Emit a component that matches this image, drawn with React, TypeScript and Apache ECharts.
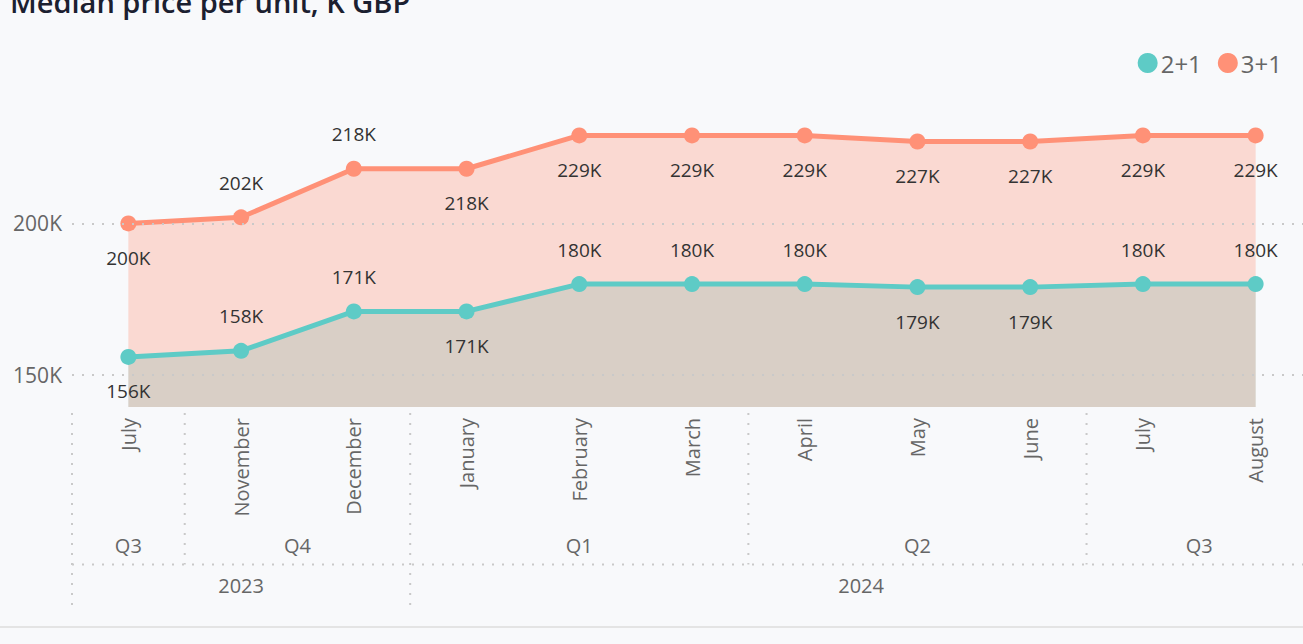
import React, { useEffect, useRef } from "react";
import * as echarts from "echarts";

const months = ["July", "November", "December", "January", "February", "March", "April", "May", "June", "July", "August"];
const quarters = ["Q3", "Q4", "Q4", "Q1", "Q1", "Q1", "Q2", "Q2", "Q2", "Q3", "Q3"];
const years = ["2023", "2023", "2023", "2024", "2024", "2024", "2024", "2024", "2024", "2024", "2024"];
const values21 = [156, 158, 171, 171, 180, 180, 180, 179, 179, 180, 180];
const values31 = [200, 202, 218, 218, 229, 229, 229, 227, 227, 229, 229];
const labelAbove21 = [false, true, true, false, true, true, true, false, false, true, true];
const labelAbove31 = [false, true, true, false, false, false, false, false, false, false, false];
const yLabelTicks = [150, 200];
const titleText = "Median price per unit, K GBP";

const FONT = '"Segoe UI", "Open Sans", "Noto Sans", sans-serif';
const TEAL = "#5ECBC6";
const SALMON = "#FF9177";
const DOT = "#C9C9C9";
const VIEW_W = 1303;
const CHART_W = 1312;

function groups(keys: string[]) {
  const out: { key: string; start: number; end: number }[] = [];
  keys.forEach((k, i) => {
    const last = out[out.length - 1];
    if (last && last.key === k) last.end = i;
    else out.push({ key: k, start: i, end: i });
  });
  return out;
}

export default function App() {
  const ref = useRef<HTMLDivElement>(null);
  useEffect(() => {
    if (!ref.current) return;
    const chart = echarts.init(ref.current, undefined, { renderer: "svg" });
    const lbl = (above: boolean[]) => (v: number, i: number) => ({
      value: v,
      label: { position: above[i] ? "top" : "bottom" },
    });
    const dataLabel = {
      show: true,
      formatter: (p: any) => `${p.value}K`,
      color: "#333",
      fontSize: 19,
      fontFamily: FONT,
      distance: 17,
    };
    const option: any = {
      animation: false,
      backgroundColor: "#F8F9FB",
      legend: {
        data: ["2+1", "3+1"],
        icon: "circle",
        itemWidth: 20,
        itemHeight: 20,
        itemGap: 16,
        right: CHART_W - 1287,
        top: 46,
        textStyle: { fontSize: 24, color: "#666", fontFamily: FONT, padding: [0, 0, 0, -2] },
      },
      grid: { left: 72, right: 0, top: 102, bottom: 237, containLabel: false },
      xAxis: {
        type: "category",
        data: months,
        boundaryGap: true,
        axisLine: { show: false },
        axisTick: { show: false },
        splitLine: { show: false },
        axisLabel: {
          interval: 0,
          rotate: 90,
          margin: 11,
          fontSize: 20,
          color: "#666",
          fontFamily: FONT,
        },
      },
      yAxis: {
        type: "value",
        min: 139.5,
        max: 240,
        interval: 0.5,
        axisLine: { show: false },
        axisTick: { show: false },
        splitLine: { show: false },
        axisLabel: {
          margin: 10,
          fontSize: 21,
          color: "#666",
          fontFamily: FONT,
          formatter: (v: number) => (yLabelTicks.includes(v) ? `${v}K` : ""),
        },
      },
      series: [
        {
          name: "2+1",
          type: "line",
          data: values21,
          symbol: "none",
          color: TEAL,
          lineStyle: { width: 0 },
          areaStyle: { color: "rgba(94,203,198,0.44)", origin: "start" },
          silent: true,
          markLine: {
            silent: true,
            symbol: "none",
            label: { show: false },
            lineStyle: { color: DOT, width: 2, type: [2, 8] },
            data: yLabelTicks.map((t) => ({ yAxis: t })),
          },
        },
        {
          name: "3+1",
          type: "line",
          data: values31,
          symbol: "none",
          color: SALMON,
          lineStyle: { width: 0 },
          areaStyle: { color: "rgba(255,145,119,0.44)", origin: "start" },
          silent: true,
        },
        {
          name: "2+1",
          type: "line",
          data: values21.map(lbl(labelAbove21)),
          color: TEAL,
          symbol: "circle",
          symbolSize: 16,
          lineStyle: { width: 5, color: TEAL },
          itemStyle: { color: TEAL },
          label: dataLabel,
        },
        {
          name: "3+1",
          type: "line",
          data: values31.map(lbl(labelAbove31)),
          color: SALMON,
          symbol: "circle",
          symbolSize: 16,
          lineStyle: { width: 5, color: SALMON },
          itemStyle: { color: SALMON },
          label: dataLabel,
        },
      ],
    };
    chart.setOption(option);

    const cx = (i: number) => chart.convertToPixel({ xAxisIndex: 0 }, i) as number;
    const band = cx(1) - cx(0);
    const rowTop = 413;
    const qLineY = 564.5;
    const yLineY = 605;
    const qLabelY = 545;
    const yLabelY = 585;
    const dotStyle = { stroke: DOT, lineWidth: 2, lineDash: [2, 8] };
    const els: any[] = [];
    const yGroups = groups(years);
    const qGroups = groups(years.map((y, i) => `${y}-${quarters[i]}`));
    const yearStarts = new Set(yGroups.map((g) => g.start));
    qGroups.forEach((g) => {
      const x0 = cx(g.start) - band / 2;
      if (!yearStarts.has(g.start)) {
        els.push({ type: "line", shape: { x1: x0, y1: rowTop, x2: x0, y2: qLineY }, style: dotStyle, silent: true });
      }
      els.push({
        type: "text",
        x: (cx(g.start) + cx(g.end)) / 2,
        y: qLabelY,
        style: { text: quarters[g.start], fontSize: 20, fill: "#666", fontFamily: FONT, align: "center", verticalAlign: "middle" },
        silent: true,
      });
    });
    yGroups.forEach((g) => {
      const x0 = cx(g.start) - band / 2;
      els.push({ type: "line", shape: { x1: x0, y1: rowTop, x2: x0, y2: yLineY }, style: dotStyle, silent: true });
      els.push({
        type: "text",
        x: (cx(g.start) + cx(g.end)) / 2,
        y: yLabelY,
        style: { text: g.key, fontSize: 20, fill: "#666", fontFamily: FONT, align: "center", verticalAlign: "middle" },
        silent: true,
      });
    });
    els.push({
      type: "line",
      shape: { x1: cx(0) - band / 2, y1: qLineY, x2: VIEW_W, y2: qLineY },
      style: dotStyle,
      silent: true,
    });
    els.push({
      type: "line",
      shape: { x1: 0, y1: 627, x2: CHART_W, y2: 627 },
      style: { stroke: "#E4E4E4", lineWidth: 2 },
      silent: true,
    });
    els.push({
      type: "text",
      x: 10,
      y: 16,
      style: { text: titleText, fontSize: 29, fontWeight: 600, fill: "#1B2030", fontFamily: FONT, verticalAlign: "bottom" },
      silent: true,
    });
    chart.setOption({ graphic: els });

    return () => chart.dispose();
  }, []);
  return (
    <div style={{ position: "absolute", left: 0, top: 0, width: VIEW_W, height: 644, overflow: "hidden", background: "#F8F9FB" }}>
      <div ref={ref} style={{ width: CHART_W, height: 644 }} />
    </div>
  );
}
